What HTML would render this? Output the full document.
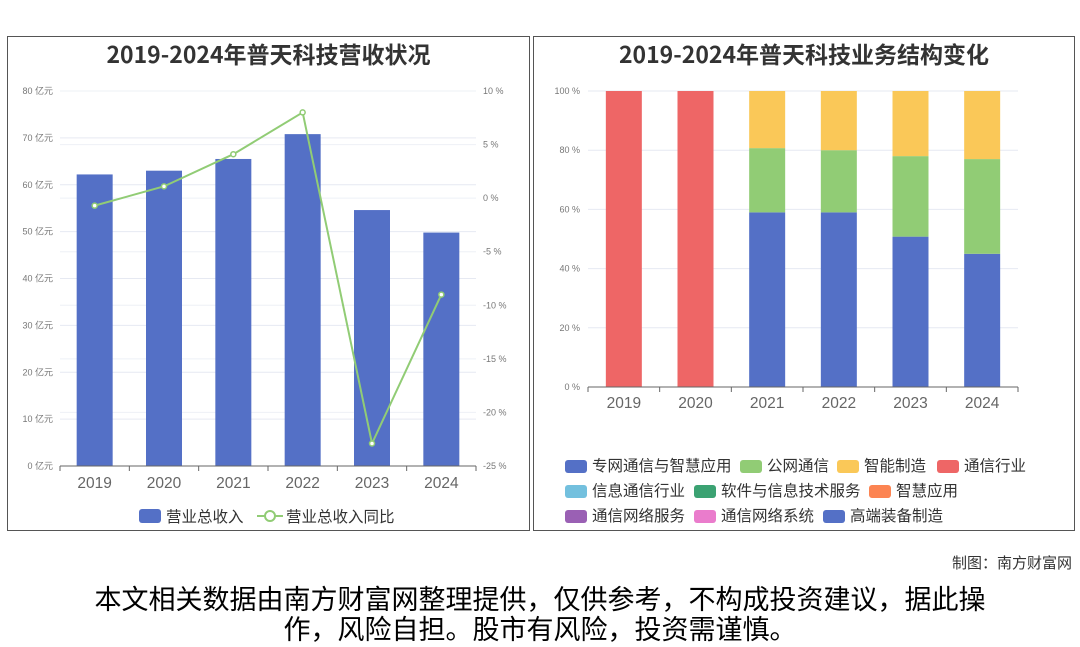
<!DOCTYPE html>
<html><head><meta charset="utf-8">
<style>
body{margin:0;width:1080px;height:646px;background:#fff;font-family:"Liberation Sans","Noto Sans CJK SC",sans-serif;overflow:hidden;position:relative}
.panel{position:absolute;border:1px solid #555;box-sizing:border-box}
.title{position:absolute;font-weight:bold;font-size:23px;color:#333;text-align:center;width:100%;font-family:"Noto Sans CJK SC",sans-serif}
svg{position:absolute;left:0;top:0}
svg text{font-family:"Liberation Sans","Noto Sans CJK SC",sans-serif}
.foot{position:absolute;font-size:27px;line-height:30px;color:#000;text-align:center;width:1080px;left:0;font-family:"Noto Sans CJK SC",sans-serif}
</style></head><body>
<div class="panel" style="left:7px;top:36px;width:523px;height:495px"></div>
<div class="panel" style="left:533px;top:36px;width:542px;height:495px"></div>
<div class="title" style="left:7px;top:36px;width:523px">2019-2024年普天科技营收状况</div>
<div class="title" style="left:533px;top:36px;width:542px">2019-2024年普天科技业务结构变化</div>
<svg id="chart" width="1080" height="646"></svg>
<div style="position:absolute;right:8px;top:552px;font-size:15px;color:#333">制图：南方财富网</div>
<div class="foot" style="top:583px">本文相关数据由南方财富网整理提供，仅供参考，不构成投资建议，据此操</div>
<div class="foot" style="top:613px">作，风险自担。股市有风险，投资需谨慎。</div>
<script>
const years=['2019','2020','2021','2022','2023','2024'];
const revenue=[62.2,63.0,65.5,70.8,54.6,49.8];
const growth=[-0.7,1.1,4.1,8.0,-22.9,-9.0];
const leftTicks=[0,10,20,30,40,50,60,70,80];
const rightTicks=[-25,-20,-15,-10,-5,0,5,10];
const sBlue=[0,0,59,59,50.8,45];
const sGreen=[0,0,21.7,21,27.2,32];
const sYellow=[0,0,19.3,20,22,23];
const sRed=[100,100,0,0,0,0];
const pctTicks=[0,20,40,60,80,100];
const legendItems=[['专网通信与智慧应用','#5470c6'],['公网通信','#91cc75'],['智能制造','#fac858'],['通信行业','#ee6666'],['信息通信行业','#73c0de'],['软件与信息技术服务','#3ba272'],['智慧应用','#fc8452'],['通信网络服务','#9a60b4'],['通信网络系统','#ea7ccc'],['高端装备制造','#5470c6']];
const svg=document.getElementById('chart');const NS='http://www.w3.org/2000/svg';
function mk(t,a,p){const e=document.createElementNS(NS,t);for(const k in a)e.setAttribute(k,a[k]);(p||svg).appendChild(e);return e;}
// left chart
const L={x0:60,x1:476,y0:466,y1:91};
const ly=v=>L.y0-(v/80)*(L.y0-L.y1);
const ry=v=>L.y0-((v+25)/35)*(L.y0-L.y1);
const lbw=(L.x1-L.x0)/6;const lx=i=>L.x0+lbw*(i+0.5);
leftTicks.forEach(t=>{const g=mk('line',{x1:L.x0,x2:L.x1,y1:ly(t),y2:ly(t),stroke:'#e6e9f2'});
const tx=mk('text',{x:53,y:ly(t)+3,'text-anchor':'end','font-size':9,fill:'#777'});tx.textContent=t+' 亿元';});
rightTicks.forEach(t=>{const g=mk('line',{x1:L.x0,x2:L.x1,y1:ry(t),y2:ry(t),stroke:'#eef0f6'});
const tx=mk('text',{x:483,y:ry(t)+3,'font-size':9,fill:'#777'});tx.textContent=t+' %';});
revenue.forEach((v,i)=>{const r=mk('rect',{x:lx(i)-18,y:ly(v),width:36,height:L.y0-ly(v),fill:'#5470c6'});});
let ax=mk('line',{x1:L.x0,x2:L.x1,y1:L.y0,y2:L.y0,stroke:'#666'});
years.forEach((y,i)=>{const tk=mk('line',{x1:L.x0+lbw*i,x2:L.x0+lbw*i,y1:L.y0,y2:L.y0+5,stroke:'#666'});
const t=mk('text',{x:lx(i),y:488,'text-anchor':'middle','font-size':15.5,fill:'#666'});t.textContent=y;});
const tk2=mk('line',{x1:L.x1,x2:L.x1,y1:L.y0,y2:L.y0+5,stroke:'#666'});
const pl=mk('polyline',{points:growth.map((v,i)=>lx(i)+','+ry(v)).join(' '),fill:'none',stroke:'#91cc75','stroke-width':2});
growth.forEach((v,i)=>{const c=mk('circle',{cx:lx(i),cy:ry(v),r:2.5,fill:'#fff',stroke:'#91cc75','stroke-width':1.5});});
// left legend
let lr=mk('rect',{x:139,y:509,width:22,height:14,rx:3,fill:'#5470c6'});
let lt=mk('text',{x:166,y:522,'font-size':15.5,fill:'#333'});lt.textContent='营业总收入';
let ll=mk('line',{x1:257,x2:283,y1:516,y2:516,stroke:'#91cc75','stroke-width':2});
let lc=mk('circle',{cx:270,cy:516,r:5,fill:'#fff',stroke:'#91cc75','stroke-width':2});
let lt2=mk('text',{x:286,y:522,'font-size':15.5,fill:'#333'});lt2.textContent='营业总收入同比';
// right chart
const R={x0:588,x1:1018,y0:387,y1:91};
const py=v=>R.y0-(v/100)*(R.y0-R.y1);
const rbw=(R.x1-R.x0)/6;const px=i=>R.x0+rbw*(i+0.5);
pctTicks.forEach(t=>{const g=mk('line',{x1:R.x0,x2:R.x1,y1:py(t),y2:py(t),stroke:'#e6e9f2'});
const tx=mk('text',{x:580,y:py(t)+3,'text-anchor':'end','font-size':9,fill:'#777'});tx.textContent=t+' %';});
const series=[[sBlue,'#5470c6','blue'],[sGreen,'#91cc75','green'],[sYellow,'#fac858','yellow'],[sRed,'#ee6666','red']];
years.forEach((y,i)=>{let acc=0;series.forEach(s=>{const v=s[0][i];if(v>0){const r=mk('rect',{x:px(i)-18,y:py(acc+v),width:36,height:py(acc)-py(acc+v),fill:s[1]});}acc+=v;});});
ax=mk('line',{x1:R.x0,x2:R.x1,y1:R.y0,y2:R.y0,stroke:'#666'});
years.forEach((y,i)=>{const tk=mk('line',{x1:R.x0+rbw*i,x2:R.x0+rbw*i,y1:R.y0,y2:R.y0+5,stroke:'#666'});
const t=mk('text',{x:px(i),y:408,'text-anchor':'middle','font-size':15.5,fill:'#666'});t.textContent=y;});
const tk3=mk('line',{x1:R.x1,x2:R.x1,y1:R.y0,y2:R.y0+5,stroke:'#666'});
const legPos=[[565,466],[740,466],[837,466],[937,466],[565,491],[694,491],[869,491],[565,516],[694,516],[823,516]];
legendItems.forEach((it,i)=>{const [x,y]=legPos[i];const r=mk('rect',{x:x,y:y-6,width:22,height:13,rx:3,fill:it[1]});
const t=mk('text',{x:x+27,y:y+5,'font-size':15.5,fill:'#333'});t.textContent=it[0];});
</script>
</body></html>
